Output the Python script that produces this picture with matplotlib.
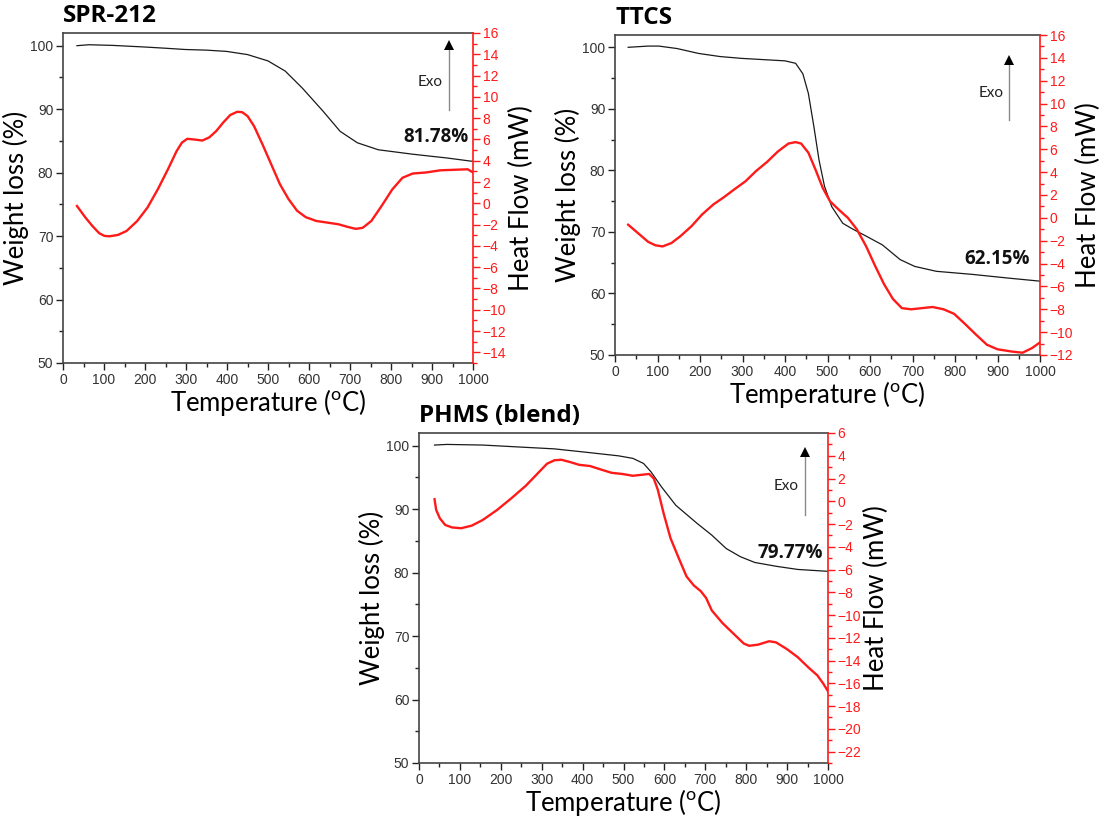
import matplotlib; matplotlib.use("Agg")
import matplotlib.pyplot as plt
from matplotlib.ticker import MultipleLocator

plt.rcParams["font.family"] = ["Liberation Sans", "DejaVu Sans"]
plt.rcParams["mathtext.fontset"] = "custom"
plt.rcParams["mathtext.rm"] = "Lato"
LBL = ["Lato", "DejaVu Sans"]
RED = "#ff1a1a"
GRY = "#333333"

# SPR-212
spr_tga_T = [34, 63, 120, 197, 250, 298, 350, 399, 450, 500, 542, 584, 634, 676, 718, 769, 853, 937, 996, 1000]
spr_tga_W = [100.0, 100.15, 100.05, 99.8, 99.6, 99.4, 99.3, 99.1, 98.6, 97.6, 96.0, 93.3, 89.7, 86.5, 84.7, 83.6, 82.9, 82.3, 81.8, 81.8]
spr_dsc_T = [34, 55, 71, 88, 101, 113, 134, 155, 181, 206, 231, 256, 277, 290, 303, 319, 340, 357, 374, 391,
             408, 425, 437, 450, 466, 487, 508, 529, 550, 571, 592, 618, 643, 672, 693, 714, 731, 752, 777, 803,
             828, 853, 886, 920, 954, 987, 1000]
spr_dsc_H = [-0.25, -1.35, -2.1, -2.8, -3.06, -3.1, -2.97, -2.6, -1.66, -0.4, 1.3, 3.2, 4.9, 5.7, 6.06, 6.0, 5.9, 6.2, 6.8, 7.6,
             8.3, 8.6, 8.56, 8.2, 7.25, 5.5, 3.65, 1.8, 0.4, -0.7, -1.3, -1.66, -1.8, -1.97, -2.2, -2.4, -2.3, -1.66, -0.25, 1.3,
             2.4, 2.8, 2.9, 3.1, 3.15, 3.2, 2.9]

# TTCS
ttcs_tga_T = [31, 78, 103, 146, 197, 247, 298, 349, 400, 425, 442, 455, 468, 480, 493, 510, 536, 561, 586, 629, 671, 705, 756, 841, 925, 1000]
ttcs_tga_W = [100.0, 100.2, 100.2, 99.8, 99.0, 98.5, 98.2, 98.0, 97.8, 97.4, 95.7, 92.5, 87.1, 81.7, 77.4, 74.1, 71.4, 70.4, 69.5, 67.9, 65.5, 64.4, 63.6, 63.1, 62.5, 62.0]
ttcs_dsc_T = [31, 53, 78, 95, 112, 133, 154, 180, 205, 231, 256, 281, 307, 332, 358, 383, 408, 425, 438, 455,
              472, 489, 506, 527, 548, 569, 591, 612, 633, 654, 675, 697, 722, 747, 773, 798, 824, 849, 875, 900,
              934, 959, 981, 1000]
ttcs_dsc_H = [-0.6, -1.3, -2.1, -2.4, -2.5, -2.2, -1.6, -0.73, 0.3, 1.16, 1.8, 2.5, 3.2, 4.1, 4.9, 5.8, 6.5, 6.63, 6.5, 5.7,
              4.2, 2.6, 1.45, 0.7, 0.0, -1.0, -2.5, -4.2, -5.8, -7.1, -7.9, -8.0, -7.9, -7.8, -8.0, -8.4, -9.3, -10.2, -11.1, -11.5,
              -11.7, -11.8, -11.4, -10.9]

# PHMS (blend)
phms_tga_T = [38, 68, 156, 243, 331, 418, 488, 523, 549, 567, 593, 628, 681, 716, 751, 786, 821, 873, 926, 1000]
phms_tga_W = [100.1, 100.2, 100.1, 99.8, 99.5, 98.9, 98.4, 98.0, 97.2, 95.9, 93.5, 90.6, 87.7, 85.9, 83.8, 82.5, 81.6, 81.0, 80.5, 80.2]
phms_dsc_T = [38, 42, 51, 64, 81, 103, 129, 156, 191, 226, 261, 287, 313, 331, 348, 370, 392, 418, 444, 471,
              497, 523, 545, 563, 574, 584, 598, 615, 637, 654, 672, 689, 702, 716, 742, 768, 794, 807, 829, 856,
              873, 900, 926, 952, 974, 988, 1000]
phms_dsc_H = [0.18, -0.76, -1.5, -2.08, -2.3, -2.37, -2.14, -1.64, -0.76, 0.27, 1.36, 2.33, 3.3, 3.6, 3.65, 3.44, 3.2, 3.1, 2.8, 2.5,
              2.4, 2.24, 2.33, 2.4, 2.0, 1.0, -1.05, -3.25, -5.16, -6.6, -7.4, -7.9, -8.5, -9.6, -10.7, -11.6, -12.5, -12.7, -12.6, -12.3,
              -12.4, -13.0, -13.7, -14.6, -15.3, -16.0, -16.7]

W, H = 1105, 819
fig = plt.figure(figsize=(W/100, H/100), dpi=100)

def rect(l, r, t, b):
    return [l/W, 1-b/H, (r-l)/W, (b-t)/H]

def panel(box, title, tT, tW, dT, dH, hlim, hticks, pct, pct_pos, arr):
    ax = fig.add_axes(box)
    ax.plot(tT, tW, color="#1a1a1a", lw=0.9)
    ax.set_xlim(0, 1000)
    ax.set_ylim(50, 102)
    ax.xaxis.set_major_locator(MultipleLocator(100))
    ax.xaxis.set_minor_locator(MultipleLocator(50))
    ax.yaxis.set_major_locator(MultipleLocator(10))
    ax.yaxis.set_minor_locator(MultipleLocator(5))
    ax.tick_params(which="both", direction="out", colors="#222222", labelcolor=GRY, labelsize=10, pad=2)
    ax.tick_params(which="major", length=5, width=1)
    ax.tick_params(which="minor", length=3, width=1)
    for s in ["left", "bottom", "top"]:
        ax.spines[s].set_color("#444444")
        ax.spines[s].set_linewidth(1.2)
    ax.spines["right"].set_visible(False)
    ax.set_xlabel("Temperature ($^{\\mathrm{o}}$C)", fontsize=18.5, family=LBL, labelpad=0)
    ax.set_ylabel("Weight loss (%)", fontsize=18.5, family=LBL, labelpad=1)
    ax2 = ax.twinx()
    ax2.plot(dT, dH, color=RED, lw=1.7)
    ax2.set_ylim(*hlim)
    ax2.yaxis.set_minor_locator(MultipleLocator(1))
    ax2.set_yticks(hticks)
    ax2.tick_params(which="both", direction="out", colors=RED, labelcolor=RED, labelsize=10, pad=2)
    ax2.tick_params(which="major", length=5, width=1)
    ax2.tick_params(which="minor", length=3, width=1)
    ax2.spines["right"].set_color(RED)
    ax2.spines["right"].set_linewidth(1.2)
    for s in ["left", "bottom", "top"]:
        ax2.spines[s].set_visible(False)
    ax2.set_ylabel("Heat Flow (mW)", fontsize=18.5, family=LBL, labelpad=2)
    ax.text(0.0, 1.015, title, transform=ax.transAxes, fontsize=17.5, fontweight="bold",
            family=["Open Sans", "DejaVu Sans"], ha="left", va="bottom")
    ax.text(pct_pos[0], pct_pos[1], pct, transform=ax.transAxes, fontsize=13.5, fontweight="bold",
            family=["Open Sans", "DejaVu Sans"], ha="right", va="center", color="#111111")
    # Exo arrow: gray shaft, black head
    ax.plot([arr[0], arr[0]], [arr[2], arr[1] - 0.02], transform=ax.transAxes, color="#8a8a8a", lw=1)
    ax.plot([arr[0]], [arr[1] - 0.015], transform=ax.transAxes, marker="^", ms=7, color="black", mew=0)
    ax.text(arr[3], arr[4], "Exo", transform=ax.transAxes, fontsize=11, family=LBL,
            ha="center", va="center", color="#222222")
    return ax

panel(rect(63, 473, 33, 363), "SPR-212", spr_tga_T, spr_tga_W, spr_dsc_T, spr_dsc_H,
      (-15, 16), list(range(-14, 17, 2)), "81.78%", (0.99, 0.685),
      (0.941, 0.979, 0.767, 0.895, 0.85))
panel(rect(615, 1040, 35, 355), "TTCS", ttcs_tga_T, ttcs_tga_W, ttcs_dsc_T, ttcs_dsc_H,
      (-12, 16), list(range(-12, 17, 2)), "62.15%", (0.976, 0.30),
      (0.927, 0.9375, 0.734, 0.885, 0.82))
panel(rect(419, 828, 433, 763), "PHMS (blend)", phms_tga_T, phms_tga_W, phms_dsc_T, phms_dsc_H,
      (-23, 6), list(range(-22, 7, 2)), "79.77%", (0.988, 0.636),
      (0.944, 0.958, 0.752, 0.897, 0.84))

fig.savefig("out.png", dpi=100, facecolor="white")
